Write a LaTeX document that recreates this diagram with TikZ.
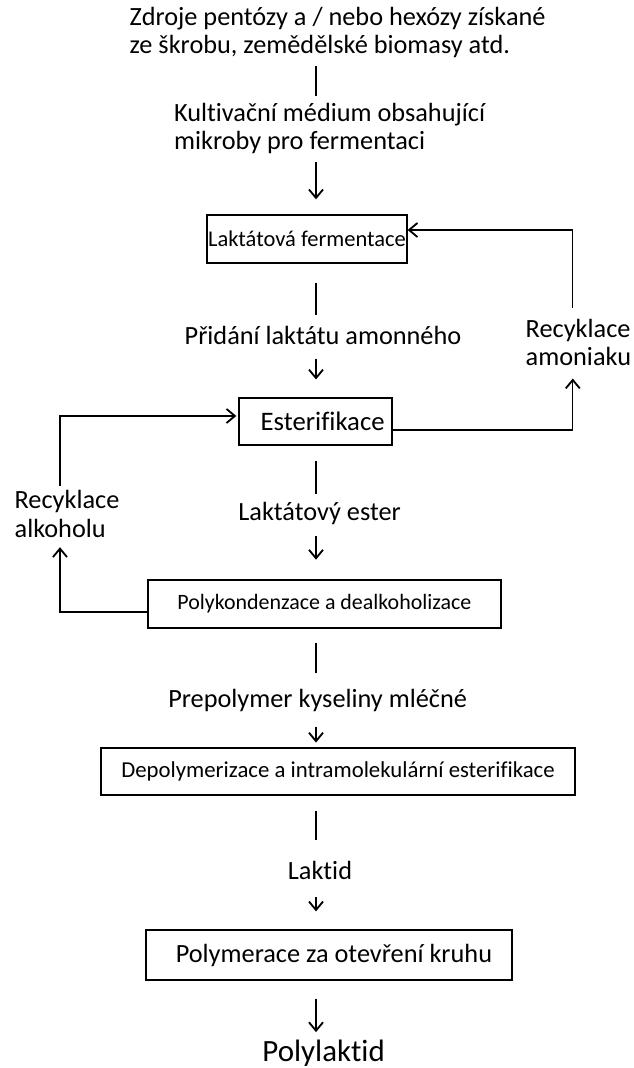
\documentclass[tikz,border=0pt]{standalone}
\usepackage{fontspec}
\setmainfont[Ligatures=NoCommon]{Carlito}
\usetikzlibrary{arrows.meta}

\begin{document}
\begin{tikzpicture}[>={Straight Barb[length=6pt,width=10pt,line width=1.3pt]},line width=0.9pt,
  every node/.style={inner sep=0pt,font=\fontsize{18.7}{20.4}\selectfont},
  lbl/.style={align=left},
  box/.style={draw,minimum height=1.2cm}]
\useasboundingbox (0,0) rectangle (15.85,-26.7);
\coordinate (ax) at (7.9,0);
\node[lbl] (src) at (8.44,-0.81) {Zdroje pentózy a / nebo hexózy získané\\ze škrobu, zemědělské biomasy atd.};
\node[lbl] (kult) at (8.24,-3.21) {Kultivační médium obsahující\\mikroby pro fermentaci};
\node[box,minimum width=5cm,font=\fontsize{16}{19}\selectfont] (ferm) at (7.675,-5.975) {Laktátová fermentace};
\node (prid) at (8.075,-8.375) {Přidání laktátu amonného};
\node[box,minimum width=3.825cm,minimum height=1.175cm,font=\fontsize{19}{22}\selectfont] (ester) at (7.89,-10.54) {\hspace*{10pt}Esterifikace};
\node[lbl] (amon) at (14.46,-8.56) {Recyklace\\amoniaku};
\node[lbl] (alk) at (1.675,-12.85) {Recyklace\\alkoholu};
\node (lest) at (7.99,-12.825) {Laktátový ester};
\node[box,minimum width=8.825cm,font=\fontsize{15.6}{18}\selectfont] (polyk) at (8.11,-15.1) {Polykondenzace a dealkoholizace};
\node (prep) at (7.94,-17.5) {Prepolymer kyseliny mléčné};
\node[box,minimum width=11.85cm,minimum height=1.175cm,font=\fontsize{16.2}{19}\selectfont] (depol) at (8.45,-19.29) {Depolymerizace a intramolekulární esterifikace};
\node (lakt) at (8,-21.75) {Laktid};
\node[box,minimum width=9.15cm,minimum height=1.25cm] (polym) at (8.225,-23.875) {\hspace*{7pt}Polymerace za otevření kruhu};
\node[font=\fontsize{22}{26}\selectfont] (pla) at (8.09,-26.325) {Polylaktid};
% main line
\draw[shorten <=5pt,shorten >=4.3pt] (src.south-|ax) -- (kult.north-|ax);
\draw[->,shorten <=5pt,shorten >=10.7pt] (kult.south-|ax) -- (ferm.north-|ax);
\draw[shorten <=13.5pt,shorten >=7pt] (ferm.south-|ax) -- (prid.north-|ax);
\draw[->,shorten <=10pt,shorten >=12.8pt] (prid.south-|ax) -- (ester.north-|ax);
\draw[shorten <=10.7pt,shorten >=5pt] (ester.south-|ax) -- (lest.north-|ax);
\draw[->,shorten <=7.8pt,shorten >=14pt] (lest.south-|ax) -- (polyk.north-|ax);
\draw[shorten <=10pt,shorten >=10.7pt] (polyk.south-|ax) -- (prep.north-|ax);
\draw[->,shorten <=11pt,shorten >=3.5pt] (prep.south-|ax) -- (depol.north-|ax);
\draw[shorten <=10.7pt,shorten >=14pt] (depol.south-|ax) -- (lakt.north-|ax);
\draw[->,shorten <=12.5pt,shorten >=12.8pt] (lakt.south-|ax) -- (polym.north-|ax);
\draw[->,shorten <=12.8pt,shorten >=5pt] (polym.south-|ax) -- (pla.north-|ax);
% recycling
\draw[->,shorten >=8.5pt] ([yshift=-6pt]ester.east) -| ([xshift=-4pt]amon.south);
\draw[->,shorten <=7pt] ([xshift=-4pt]amon.north) |- ([yshift=6.4pt]ferm.east);
\draw[->,shorten >=6.4pt] ([yshift=-5.7pt]polyk.west) -| ([xshift=-5pt]alk.south);
\draw[->,shorten <=3pt,shorten >=1.5pt] ([xshift=-5pt]alk.north) |- ([yshift=4pt]ester.west);
\end{tikzpicture}
\end{document}
